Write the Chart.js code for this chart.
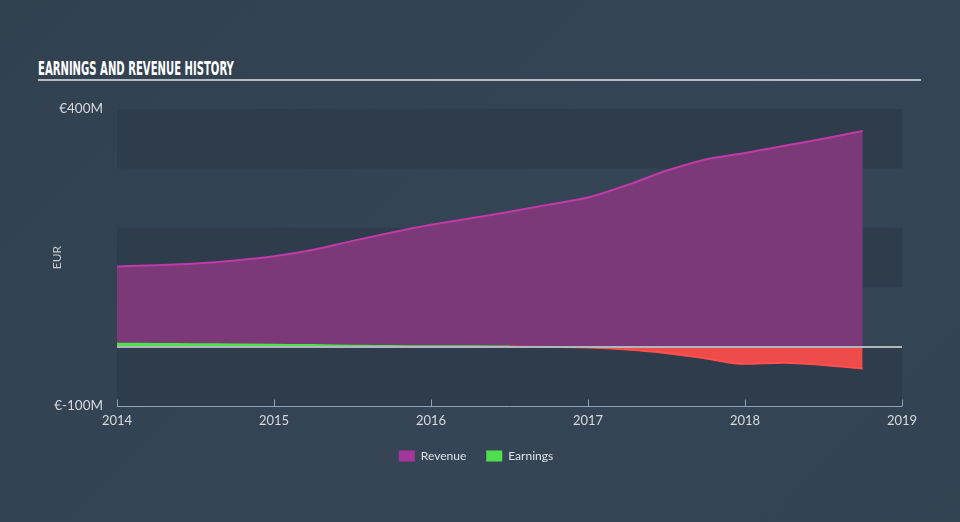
<!DOCTYPE html>
<html>
<head>
<meta charset="utf-8">
<script src="https://cdn.jsdelivr.net/npm/chart.js@4.4.0/dist/chart.umd.min.js"></script>
<style>
  html, body { margin: 0; padding: 0; }
  body { width: 960px; height: 522px; background: linear-gradient(135deg, #324150 0%, #364555 60%, #344352 100%); position: relative; overflow: hidden; }
  #title { position: absolute; left: 38px; top: 57px; width: 883px; height: 22px; border-bottom: 2px solid #b4bcc4; }
  #title span { display: inline-block; transform: scaleX(0.56); transform-origin: 0 0; white-space: nowrap;
    font-family: "Liberation Sans Narrow", "DejaVu Sans Condensed", sans-serif; font-weight: bold;
    font-size: 20px; color: #ffffff; line-height: 22px; }
  #wrap { position: absolute; left: 0; top: 0; width: 960px; height: 522px; }
</style>
</head>
<body>
<div id="title"><span>EARNINGS AND REVENUE HISTORY</span></div>
<div id="wrap"><canvas id="c" width="960" height="522"></canvas></div>
<script>
const periods = [2014.0, 2014.25, 2014.5, 2014.75, 2015.0, 2015.25, 2015.5, 2015.75, 2016.0, 2016.25, 2016.5, 2016.75, 2017.0, 2017.25, 2017.5, 2017.75, 2018.0, 2018.25, 2018.5, 2018.75];
const revenue = [135, 137, 140, 145, 152, 163, 178, 192, 205, 216, 227, 239, 251, 272, 296, 315, 326, 338, 350, 363];
const earnings = [5, 4.5, 4, 3.5, 3, 2.5, 1.5, 1, 0.5, 0.5, 0, -0.5, -1.5, -5, -11, -20, -29, -27, -31, -37];
const yearTicks = [2014, 2015, 2016, 2017, 2018, 2019];
const yLabels = { 400: '€400M', '-100': '€-100M' };

const GREEN = '#4fe04f', RED = '#ee4b4b';

const bandsPlugin = {
  id: 'bands',
  beforeDatasetsDraw(chart) {
    const { ctx, chartArea: a, scales: { y } } = chart;
    ctx.save();
    ctx.fillStyle = '#2e3c4b';
    [[300, 400], [100, 200], [-100, 0]].forEach(([lo, hi]) => {
      const t = y.getPixelForValue(hi), b = y.getPixelForValue(lo);
      ctx.fillRect(a.left, t, a.right - a.left, b - t);
    });
    ctx.restore();
  },
  afterDatasetsDraw(chart) {
    const { ctx, chartArea: a, scales: { x, y } } = chart;
    ctx.save();
    const z = Math.round(y.getPixelForValue(0));
    ctx.strokeStyle = '#b0b6bd';
    ctx.lineWidth = 2;
    ctx.beginPath(); ctx.moveTo(a.left, z); ctx.lineTo(a.right, z); ctx.stroke();
    const yb = Math.round(a.bottom) + 0.5;
    ctx.strokeStyle = '#93a3b3';
    ctx.lineWidth = 1;
    ctx.beginPath(); ctx.moveTo(a.left, yb); ctx.lineTo(a.right, yb); ctx.stroke();
    yearTicks.forEach(v => {
      const px = Math.round(x.getPixelForValue(v)) + 0.5;
      ctx.beginPath(); ctx.moveTo(px, yb); ctx.lineTo(px, yb - 7); ctx.stroke();
    });
    ctx.restore();
  }
};

new Chart(document.getElementById('c'), {
  type: 'line',
  data: {
    datasets: [
      {
        label: 'Revenue',
        data: periods.map((p, i) => ({ x: p, y: revenue[i] })),
        borderColor: '#c13aa9',
        backgroundColor: '#7b3a77',
        borderWidth: 2,
        fill: 'origin',
        pointRadius: 0,
        cubicInterpolationMode: 'monotone',
        order: 1
      },
      {
        label: 'Earnings',
        data: periods.map((p, i) => ({ x: p, y: earnings[i] })),
        borderColor: GREEN,
        backgroundColor: GREEN,
        borderWidth: 2,
        fill: { target: 'origin', above: GREEN, below: RED },
        segment: { borderColor: c => (c.p0.parsed.y < 0 || c.p1.parsed.y < 0) ? '#ff4f4f' : GREEN },
        pointRadius: 0,
        cubicInterpolationMode: 'monotone',
        order: 0
      }
    ]
  },
  options: {
    responsive: false,
    animation: false,
    layout: { padding: { left: 50, right: 58, top: 109, bottom: 50 } },
    scales: {
      x: {
        type: 'linear',
        min: 2014, max: 2019,
        afterBuildTicks: s => { s.ticks = yearTicks.map(v => ({ value: v })); },
        grid: { display: false, drawTicks: false },
        border: { display: false },
        ticks: { color: '#d6dade', font: { family: 'Lato', size: 13 }, padding: 7, callback: v => String(v), maxRotation: 0 },
        afterFit: s => { s.height = 24; }
      },
      y: {
        min: -100, max: 400,
        afterBuildTicks: s => { s.ticks = [-100, 0, 100, 200, 300, 400].map(v => ({ value: v })); },
        grid: { display: false, drawTicks: false },
        border: { display: false },
        ticks: { color: '#d6dade', font: { family: 'Lato', size: 13.5 }, padding: 14, callback: v => yLabels[v] || '' },
        title: { display: true, text: 'EUR', color: '#c8ccd0', font: { family: 'Lato', size: 12 }, padding: 0 },
        afterFit: s => { s.width = 67; }
      }
    },
    plugins: {
      legend: {
        position: 'bottom',
        labels: {
          color: '#dfe2e5', font: { family: 'Lato', size: 12 }, boxWidth: 16, boxHeight: 11, padding: 20,
          sort: (a, b) => a.datasetIndex - b.datasetIndex,
          generateLabels: chart => chart.data.datasets.map((d, i) => ({
            text: d.label, fillStyle: i === 0 ? '#a3379b' : GREEN, strokeStyle: 'transparent', lineWidth: 0,
            fontColor: '#dfe2e5', datasetIndex: i, hidden: false
          }))
        }
      },
      tooltip: { enabled: false }
    }
  },
  plugins: [bandsPlugin]
});
</script>
</body>
</html>
